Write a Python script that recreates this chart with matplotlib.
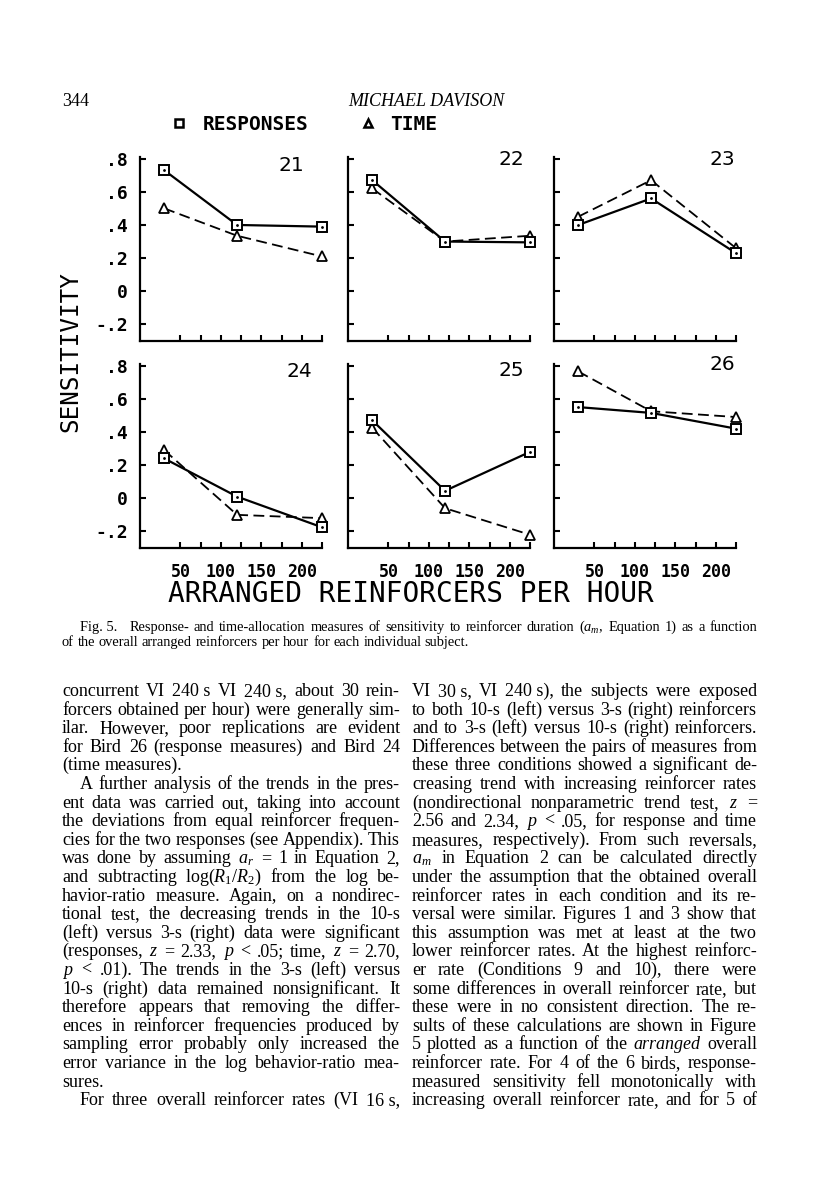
import matplotlib.pyplot as plt
from matplotlib.lines import Line2D

plt.rcParams['mathtext.fontset'] = 'custom'
plt.rcParams['mathtext.rm'] = 'Liberation Serif'
plt.rcParams['mathtext.it'] = 'Liberation Serif:italic'

# data
birds = ['21', '22', '23', '24', '25', '26']
rates = [30, 120, 225]

responses_21 = [0.73, 0.40, 0.39]
responses_22 = [0.67, 0.30, 0.295]
responses_23 = [0.40, 0.56, 0.23]
responses_24 = [0.24, 0.01, -0.175]
responses_25 = [0.47, 0.045, 0.28]
responses_26 = [0.55, 0.515, 0.42]

time_21 = [0.50, 0.335, 0.21]
time_22 = [0.62, 0.30, 0.335]
time_23 = [0.45, 0.67, 0.26]
time_24 = [0.29, -0.10, -0.12]
time_25 = [0.425, -0.06, -0.22]
time_26 = [0.765, 0.525, 0.49]

responses = [responses_21, responses_22, responses_23,
             responses_24, responses_25, responses_26]
times = [time_21, time_22, time_23, time_24, time_25, time_26]

x_ticks = [50, 75, 100, 125, 150, 175, 200, 225]
x_labels = {50: '50', 100: '100', 150: '150', 200: '200'}
y_ticks = [-0.2, 0.0, 0.2, 0.4, 0.6, 0.8]
y_labels = ['-.2', '0', '.2', '.4', '.6', '.8']

W, H = 816, 1193
fig = plt.figure(figsize=(W / 100, H / 100), dpi=100)


def fx(px):
    return px / W


def fy(py):
    return 1 - py / H


panel_left = [140, 348, 554]
panel_top = [157, 364]
panel_w = 182
panel_h = 184

# where the bird number sits, in axes fractions
number_pos = [(0.90, 0.956), (0.967, 0.989), (0.995, 0.989),
              (0.945, 0.957), (0.967, 0.967), (0.995, 1.0)]

mono = 'DejaVu Sans Mono'

for i, bird in enumerate(birds):
    row, col = divmod(i, 3)
    left = panel_left[col]
    top = panel_top[row]
    ax = fig.add_axes([fx(left), fy(top + panel_h), panel_w / W, panel_h / H])

    ax.plot(rates, times[i], color='black', lw=1.3, dashes=(6, 3),
            marker='^', ms=7, mfc='white', mec='black', mew=1.3,
            clip_on=False, zorder=3)
    ax.plot(rates, responses[i], color='black', lw=1.6,
            marker='s', ms=7, mfc='white', mec='black', mew=1.4,
            clip_on=False, zorder=4)
    ax.plot(rates, responses[i], ls='none', marker='.', ms=2,
            color='black', clip_on=False, zorder=5)

    ax.set_xlim(0, 225)
    ax.set_ylim(-0.3, 0.81)
    for side in ['top', 'right']:
        ax.spines[side].set_visible(False)
    for side in ['left', 'bottom']:
        ax.spines[side].set_linewidth(1.6)

    ax.set_xticks(x_ticks)
    ax.set_yticks(y_ticks)
    if row == 1:
        ax.set_xticklabels([x_labels.get(t, '') for t in x_ticks],
                           fontfamily=mono, fontweight='bold', fontsize=12)
    else:
        ax.set_xticklabels([])
    if col == 0:
        ax.set_yticklabels(y_labels, fontfamily=mono, fontweight='bold',
                           fontsize=13)
    else:
        ax.set_yticklabels([])
    ax.tick_params(axis='both', direction='in', length=4, width=1.5)
    ax.tick_params(axis='x', pad=11)
    ax.tick_params(axis='y', pad=9)

    nx, ny = number_pos[i]
    ax.text(nx, ny, bird, transform=ax.transAxes, ha='right', va='center',
            fontsize=14.5, family='DejaVu Sans')

# legend
fig.add_artist(Line2D([fx(179)], [fy(123)], marker='s', ms=6, mfc='white',
                      mec='black', mew=1.8, ls='none',
                      transform=fig.transFigure))
fig.text(fx(203), fy(124), 'RESPONSES', fontsize=14, family=mono,
         fontweight='bold', va='center')
fig.add_artist(Line2D([fx(368)], [fy(123)], marker='^', ms=6, mfc='white',
                      mec='black', mew=1.8, ls='none',
                      transform=fig.transFigure))
fig.text(fx(390), fy(124), 'TIME', fontsize=14, family=mono,
         fontweight='bold', va='center')

# axis titles
fig.text(fx(70), fy(352), 'SENSITIVITY', rotation=90, fontsize=17.5,
         family=mono, ha='center', va='center')
fig.text(fx(411), fy(594), 'ARRANGED REINFORCERS PER HOUR', fontsize=20,
         family=mono, ha='center', va='center')

# page text
serif = 'Liberation Serif'
renderer = fig.canvas.get_renderer()


def set_line(text, x0, x1, base, size, justify):
    items = []
    total = 0
    for w in text.split(' '):
        style = 'normal'
        if w.startswith('*'):
            w = w[1:]
            style = 'italic'
        t = fig.text(0, fy(base), w.replace('~', ' '), fontsize=size,
                     family=serif, style=style, va='baseline', ha='left')
        wpx = t.get_window_extent(renderer).width
        items.append((t, wpx))
        total += wpx
    gap = size * 100 / 72 * 0.25
    if justify and len(items) > 1:
        gap = max((x1 - x0 - total) / (len(items) - 1), 2.5)
    x = x0
    for t, wpx in items:
        t.set_x(fx(x))
        x += wpx + gap


fig.text(fx(62), fy(106), '344', fontsize=13, family=serif, va='baseline')
fig.text(fx(426), fy(106), 'MICHAEL DAVISON', fontsize=13, family=serif,
         style='italic', ha='center', va='baseline')

cap_size = 10.4
fig5 = fig.text(fx(80), fy(631), 'Fig. 5.', fontsize=cap_size, family=serif,
                va='baseline')
fig5_w = fig5.get_window_extent(renderer).width
set_line('Response- and time-allocation measures of sensitivity to reinforcer '
         'duration ($a_m$, Equation 1) as a function',
         80 + fig5_w + 12, 757, 631, cap_size, True)
set_line('of the overall arranged reinforcers per hour for each individual '
         'subject.', 62, 757, 646, cap_size, False)

left_col = [
    'concurrent VI 240~s VI 240~s, about 30 rein-',
    'forcers obtained per hour) were generally sim-',
    'ilar. However, poor replications are evident',
    'for Bird 26 (response measures) and Bird 24',
    '(time measures).',
    'A further analysis of the trends in the pres-',
    'ent data was carried out, taking into account',
    'the deviations from equal reinforcer frequen-',
    'cies for the two responses (see Appendix). This',
    'was done by assuming $a_r$ = 1 in Equation 2,',
    'and subtracting log($R_1/R_2$) from the log be-',
    'havior-ratio measure. Again, on a nondirec-',
    'tional test, the decreasing trends in the 10-s',
    '(left) versus 3-s (right) data were significant',
    '(responses, $z$ = 2.33, $p$ < .05; time, $z$ = 2.70,',
    '$p$ < .01). The trends in the 3-s (left) versus',
    '10-s (right) data remained nonsignificant. It',
    'therefore appears that removing the differ-',
    'ences in reinforcer frequencies produced by',
    'sampling error probably only increased the',
    'error variance in the log behavior-ratio mea-',
    'sures.',
    'For three overall reinforcer rates (VI 16~s,',
]
left_last = {4, 21}
left_indent = {5, 22}

right_col = [
    'VI 30~s, VI 240~s), the subjects were exposed',
    'to both 10-s (left) versus 3-s (right) reinforcers',
    'and to 3-s (left) versus 10-s (right) reinforcers.',
    'Differences between the pairs of measures from',
    'these three conditions showed a significant de-',
    'creasing trend with increasing reinforcer rates',
    '(nondirectional nonparametric trend test, $z$ =',
    '2.56 and 2.34, $p$ < .05, for response and time',
    'measures, respectively). From such reversals,',
    '$a_m$ in Equation 2 can be calculated directly',
    'under the assumption that the obtained overall',
    'reinforcer rates in each condition and its re-',
    'versal were similar. Figures 1 and 3 show that',
    'this assumption was met at least at the two',
    'lower reinforcer rates. At the highest reinforc-',
    'er rate (Conditions 9 and 10), there were',
    'some differences in overall reinforcer rate, but',
    'these were in no consistent direction. The re-',
    'sults of these calculations are shown in Figure',
    '5 plotted as a function of the *arranged overall',
    'reinforcer rate. For 4 of the 6 birds, response-',
    'measured sensitivity fell monotonically with',
    'increasing overall reinforcer rate, and for 5 of',
]

line_gap = 18.6
first_base = 696
body_size = 13.0

for k, line in enumerate(left_col):
    x0 = 62 + (18 if k in left_indent else 0)
    set_line(line, x0, 400, first_base + k * line_gap, body_size,
             k not in left_last)

for k, line in enumerate(right_col):
    set_line(line, 412, 757, first_base + k * line_gap, body_size, True)

fig.savefig('out.png', dpi=100, facecolor='white')
